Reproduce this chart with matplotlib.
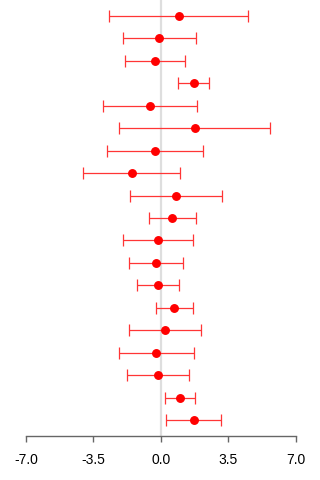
import numpy as np
import matplotlib
matplotlib.use("Agg")
import matplotlib.pyplot as plt

plt.rcParams['font.family'] = ['Liberation Sans', 'DejaVu Sans']

# point estimates with lower / upper interval bounds, top row first
estimate = [0.93, -0.07, -0.32, 1.71, -0.56, 1.76, -0.28, -1.51, 0.79, 0.60,
            -0.14, -0.23, -0.14, 0.67, 0.22, -0.23, -0.13, 0.98, 1.71]
lower = [-2.67, -1.98, -1.86, 0.91, -3.00, -2.17, -2.77, -4.02, -1.60, -0.61,
         -1.98, -1.63, -1.25, -0.26, -1.63, -2.15, -1.74, 0.20, 0.27]
upper = [4.53, 1.85, 1.24, 2.52, 1.88, 5.69, 2.21, 0.98, 3.18, 1.85,
         1.69, 1.17, 0.96, 1.66, 2.07, 1.71, 1.45, 1.78, 3.15]
xticks = [-7.0, -3.5, 0.0, 3.5, 7.0]

est = np.array(estimate)
lo = np.array(lower)
hi = np.array(upper)
n = len(est)
ypos = np.arange(n)[::-1]

fig = plt.figure(figsize=(3.2, 4.8), dpi=100)
ax = fig.add_axes([26 / 320, 44 / 480, 269.5 / 320, 436 / 480])

ax.axvline(0, color='#dedede', lw=1.6, zorder=1)
ax.errorbar(est, ypos, xerr=[est - lo, hi - est], fmt='none',
            ecolor='#ff3535', elinewidth=0.9, capsize=4.5, capthick=0.9, zorder=2)
ax.plot(est, ypos, 'o', color='red', markersize=5.4, zorder=3)

ax.set_xlim(-7, 7)
ax.set_ylim(-0.713, n - 1 + 0.713)
ax.set_xticks(xticks)
ax.set_xticklabels([f"{t:.1f}" for t in xticks], fontsize=10)
ax.set_yticks([])
for side in ['top', 'right', 'left']:
    ax.spines[side].set_visible(False)
ax.spines['bottom'].set_color('#666666')
ax.spines['bottom'].set_linewidth(1.0)
ax.spines['bottom'].set_bounds(-7, 7)
ax.tick_params(axis='x', length=4, width=1.0, color='#666666', pad=8)
ax.patch.set_visible(False)
fig.savefig('out.png', dpi=100)
